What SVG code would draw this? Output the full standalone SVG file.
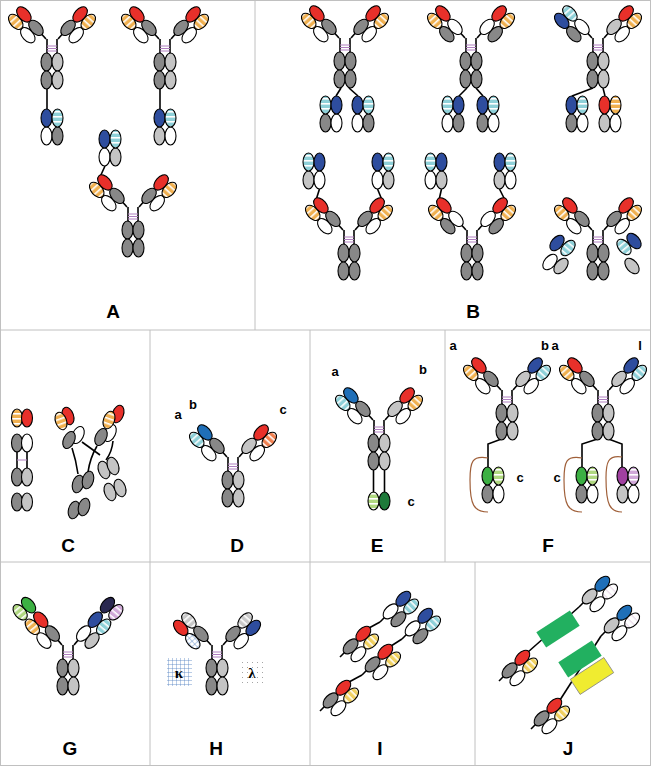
<svg xmlns="http://www.w3.org/2000/svg" xmlns:xlink="http://www.w3.org/1999/xlink" width="651" height="766" viewBox="0 0 651 766">
<style>
ellipse{stroke:#000;stroke-width:1.1}
.ln{stroke:#000;stroke-width:1.6;fill:none}
.pk{stroke:#b080c0;stroke-width:1}
.vh{fill:var(--vh,#e8302a)} .vl{fill:var(--vl,url(#po))} .ch{fill:var(--ch,#888)} .cl{fill:var(--cl,#fff)}
.xh{fill:var(--xh,#3cb043)} .xl{fill:var(--xl,url(#pg))}
.f1{fill:var(--f1,#888)} .f2{fill:var(--f2,#888)}
.lbl{font-family:"Liberation Sans",Arial,sans-serif;font-weight:bold;font-size:19px;text-anchor:middle}
.sl{font-family:"Liberation Sans",Arial,sans-serif;font-weight:bold;font-size:13px;text-anchor:middle}
.brd{stroke:#c0c0c0;stroke-width:1;fill:none}
.br{stroke:#a0603a;stroke-width:1.2;fill:none}
</style>
<defs>
<pattern id="po" patternUnits="userSpaceOnUse" width="6" height="5"><rect width="6" height="5" fill="#f0b050"/><rect y="3" width="6" height="1.6" fill="#fff"/></pattern>
<pattern id="pc" patternUnits="userSpaceOnUse" width="6" height="5"><rect width="6" height="5" fill="#8ed0d8"/><rect y="3" width="6" height="1.6" fill="#fff"/></pattern>
<pattern id="pr" patternUnits="userSpaceOnUse" width="6" height="5"><rect width="6" height="5" fill="#f08050"/><rect y="3" width="6" height="1.6" fill="#fff"/></pattern>
<pattern id="pg" patternUnits="userSpaceOnUse" width="6" height="5"><rect width="6" height="5" fill="#b0d880"/><rect y="3" width="6" height="1.6" fill="#fff"/></pattern>
<pattern id="pp" patternUnits="userSpaceOnUse" width="6" height="5"><rect width="6" height="5" fill="#d0a8d8"/><rect y="3" width="6" height="1.6" fill="#fff"/></pattern>
<pattern id="pl" patternUnits="userSpaceOnUse" width="6" height="5"><rect width="6" height="5" fill="#fff"/><rect y="3" width="6" height="1.2" fill="#e8d8e8"/></pattern>
<pattern id="py" patternUnits="userSpaceOnUse" width="6" height="5"><rect width="6" height="5" fill="#f0d060"/><rect y="3" width="6" height="1.6" fill="#fff"/></pattern>
<pattern id="pw" patternUnits="userSpaceOnUse" width="6" height="5"><rect width="6" height="5" fill="#c8c8c8"/><rect y="3" width="6" height="1.6" fill="#fff"/></pattern>
<pattern id="pgr" patternUnits="userSpaceOnUse" width="4" height="4"><rect width="4" height="4" fill="#fff"/><path d="M0 0H4M0 0V4" stroke="#5080c0" stroke-width="0.8"/></pattern>
<pattern id="pdot" patternUnits="userSpaceOnUse" width="5" height="5"><rect width="5" height="5" fill="#fff"/><circle cx="2.5" cy="2.5" r="0.5" fill="#888"/></pattern>
<g id="fab"><line class="ln" x1="0" y1="0" x2="0" y2="-7"/><ellipse class="cl" cx="-11" cy="-15" rx="5.5" ry="9"/><ellipse class="ch" cx="0" cy="-15" rx="5.5" ry="9"/><ellipse class="vl" cx="-11" cy="-33" rx="5.5" ry="9"/><ellipse class="vh" cx="0" cy="-33" rx="5.5" ry="9"/></g>
<g id="fabt"><use href="#fab"/><ellipse class="xl" cx="-11" cy="-52" rx="5.5" ry="9"/><ellipse class="xh" cx="0" cy="-52" rx="5.5" ry="9"/></g>
<g id="fc"><line class="ln" x1="-5" y1="-5" x2="-5" y2="10"/><line class="ln" x1="5" y1="-5" x2="5" y2="10"/><line class="pk" x1="-5" y1="2" x2="5" y2="2"/><line class="pk" x1="-5" y1="4.5" x2="5" y2="4.5"/><line class="pk" x1="-5" y1="7" x2="5" y2="7"/><ellipse class="f1" cx="-5.5" cy="18" rx="5.5" ry="9"/><ellipse class="f2" cx="5.5" cy="18" rx="5.5" ry="9"/><ellipse class="f1" cx="-5.5" cy="36" rx="5.5" ry="9"/><ellipse class="f2" cx="5.5" cy="36" rx="5.5" ry="9"/></g>
<g id="fv"><ellipse class="ch" cx="-5.5" cy="18" rx="5.5" ry="9"/><ellipse class="cl" cx="5.5" cy="18" rx="5.5" ry="9"/><ellipse class="vh" cx="-5.5" cy="0" rx="5.5" ry="9"/><ellipse class="vl" cx="5.5" cy="0" rx="5.5" ry="9"/></g>
</defs>
<rect width="651" height="766" fill="#fff"/>
<g id="borders">
<rect class="brd" x="0.5" y="0.5" width="650" height="765"/>
<line class="brd" x1="255" y1="0" x2="255" y2="330"/>
<line class="brd" x1="0" y1="330" x2="651" y2="330"/>
<line class="brd" x1="0" y1="562" x2="651" y2="562"/>
<line class="brd" x1="150" y1="330" x2="150" y2="766"/>
<line class="brd" x1="310" y1="330" x2="310" y2="766"/>
<line class="brd" x1="445" y1="330" x2="445" y2="562"/>
<line class="brd" x1="475" y1="562" x2="475" y2="766"/>
</g>
<g id="connectors">
<line class="ln" x1="47" y1="89" x2="47" y2="109"/>
<line class="ln" x1="160" y1="89" x2="160" y2="109"/>
<line class="ln" x1="105" y1="166" x2="100" y2="177"/>
<line class="ln" x1="341" y1="88" x2="336" y2="96"/><line class="ln" x1="349" y1="88" x2="358" y2="96"/>
<line class="ln" x1="467" y1="88" x2="459" y2="96"/><line class="ln" x1="476" y1="88" x2="483" y2="96"/>
<line class="ln" x1="593" y1="88" x2="572" y2="96"/><line class="ln" x1="603" y1="88" x2="605" y2="96"/>
<line class="ln" x1="319.5" y1="189" x2="316" y2="200"/><line class="ln" x1="377.5" y1="189" x2="382" y2="200"/>
<line class="ln" x1="441.5" y1="189" x2="439" y2="200"/><line class="ln" x1="499.5" y1="189" x2="505" y2="200"/>
<line class="ln" x1="17" y1="450" x2="17" y2="468"/><line class="ln" x1="27" y1="450" x2="27" y2="468"/>
<path class="ln" d="M72 448 Q76 460 78 474"/><path class="ln" d="M82 442 L100 455"/>
<path class="ln" d="M97 446 Q90 458 88 472"/><path class="ln" d="M113 441 Q112 452 106 460"/>
<line class="ln" x1="373.5" y1="470" x2="373.5" y2="493"/><line class="ln" x1="384.5" y1="470" x2="384.5" y2="493"/>
<polyline class="ln" points="501.5,439 488,444 488,467"/>
<polyline class="ln" points="597.5,439 582,444 582,467"/><polyline class="ln" points="608.5,439 622,444 622,467"/>
<line class="ln" x1="380" y1="622" x2="369" y2="628"/>
<line class="ln" x1="402" y1="639" x2="391" y2="646"/>
<line class="ln" x1="362" y1="675" x2="349" y2="682"/>
<line class="ln" x1="579" y1="607" x2="528" y2="652"/>
<line class="ln" x1="601" y1="636" x2="560" y2="700"/>
</g>
<g id="panelA">
<use href="#fc" transform="translate(52,44)" style="--f2:#c4c4c4"/>
<use href="#fab" transform="translate(46,39) rotate(-42)"/>
<use href="#fab" transform="translate(58,39) scale(-1,1) rotate(-42)"/>
<use href="#fv" transform="translate(52,118)" style="--vh:#2e4d9e;--vl:url(#pc);--ch:#fff;--cl:#888"/>
<use href="#fc" transform="translate(165,44)" style="--f2:#c4c4c4"/>
<use href="#fab" transform="translate(159,39) rotate(-42)"/>
<use href="#fab" transform="translate(171,39) scale(-1,1) rotate(-42)"/>
<use href="#fv" transform="translate(165,118)" style="--vh:#2e4d9e;--vl:url(#pc);--ch:#c4c4c4;--cl:#fff"/>
<use href="#fc" transform="translate(133,212)"/>
<use href="#fab" transform="translate(127,207) rotate(-42)"/>
<use href="#fab" transform="translate(139,207) scale(-1,1) rotate(-42)"/>
<use href="#fv" transform="translate(110,139)" style="--vh:#2e4d9e;--vl:url(#pc);--ch:#fff;--cl:#c4c4c4"/>
<text class="lbl" x="113" y="318">A</text>
</g>
<g id="panelB">
<use href="#fc" transform="translate(345,43)"/>
<use href="#fab" transform="translate(339,38) rotate(-42)"/>
<use href="#fab" transform="translate(351,38) scale(-1,1) rotate(-42)"/>
<use href="#fv" transform="translate(331,105)" style="--vh:url(#pc);--vl:#2e4d9e;--ch:#888;--cl:#fff"/>
<use href="#fv" transform="translate(363,105)" style="--vh:#2e4d9e;--vl:url(#pc);--ch:#fff;--cl:#888"/>
<use href="#fc" transform="translate(471,43)"/>
<use href="#fab" transform="translate(465,38) rotate(-42)" style="--ch:#fff;--cl:#888"/>
<use href="#fab" transform="translate(477,38) scale(-1,1) rotate(-42)" style="--ch:#fff;--cl:#888"/>
<use href="#fv" transform="translate(453,105)" style="--vh:url(#pc);--vl:#2e4d9e;--ch:#fff;--cl:#888"/>
<use href="#fv" transform="translate(488,105)" style="--vh:#2e4d9e;--vl:url(#pc);--ch:#888;--cl:#fff"/>
<use href="#fc" transform="translate(598,43)" style="--f2:#c4c4c4"/>
<use href="#fab" transform="translate(592,38) rotate(-42)" style="--vh:url(#pc);--vl:#2e4d9e;--ch:#fff;--cl:#888"/>
<use href="#fab" transform="translate(604,38) scale(-1,1) rotate(-42)" style="--ch:#c4c4c4"/>
<use href="#fv" transform="translate(577,105)" style="--vh:#2e4d9e;--vl:url(#pc);--ch:#888;--cl:#fff"/>
<use href="#fv" transform="translate(610,105)" style="--ch:#c4c4c4;--cl:#fff"/>
<use href="#fc" transform="translate(349,235)"/>
<use href="#fab" transform="translate(343,230) rotate(-42)"/>
<use href="#fab" transform="translate(355,230) scale(-1,1) rotate(-42)"/>
<use href="#fv" transform="translate(314,162)" style="--vh:url(#pc);--vl:#2e4d9e;--ch:#c4c4c4;--cl:#fff"/>
<use href="#fv" transform="translate(383,162)" style="--vh:#2e4d9e;--vl:url(#pc);--ch:#fff;--cl:#c4c4c4"/>
<use href="#fc" transform="translate(472,235)"/>
<use href="#fab" transform="translate(466,230) rotate(-42)" style="--ch:#fff;--cl:#888"/>
<use href="#fab" transform="translate(478,230) scale(-1,1) rotate(-42)" style="--ch:#fff;--cl:#888"/>
<use href="#fv" transform="translate(436,162)" style="--vh:url(#pc);--vl:#2e4d9e;--ch:#fff;--cl:#c4c4c4"/>
<use href="#fv" transform="translate(505,162)" style="--vh:#2e4d9e;--vl:url(#pc);--ch:#c4c4c4;--cl:#fff"/>
<use href="#fc" transform="translate(598,235)"/>
<use href="#fab" transform="translate(592,230) rotate(-42)"/>
<use href="#fab" transform="translate(604,230) scale(-1,1) rotate(-42)"/>
<ellipse cx="550" cy="262" rx="5.5" ry="9" fill="#fff" transform="rotate(40 550 262)"/>
<ellipse cx="561" cy="266" rx="5.5" ry="9" fill="#c4c4c4" transform="rotate(40 561 266)"/>
<ellipse cx="557" cy="243" rx="5.5" ry="9" fill="#2e4d9e" transform="rotate(40 557 243)"/>
<ellipse cx="568" cy="248" rx="5.5" ry="9" fill="url(#pc)" transform="rotate(40 568 248)"/>
<ellipse cx="632" cy="266" rx="5.5" ry="9" fill="#c4c4c4" transform="rotate(-40 632 266)"/>
<ellipse cx="624" cy="247" rx="5.5" ry="9" fill="url(#pc)" transform="rotate(-40 624 247)"/>
<ellipse cx="634" cy="241" rx="5.5" ry="9" fill="#2e4d9e" transform="rotate(-40 634 241)"/>
<text class="lbl" x="473" y="318">B</text>
</g>
<g id="panelC">
<ellipse cx="17" cy="418" rx="5.5" ry="9" fill="url(#po)"/><ellipse cx="27" cy="418" rx="5.5" ry="9" fill="#e8302a"/>
<ellipse cx="17" cy="443" rx="5.5" ry="9" fill="#888"/><ellipse cx="27" cy="443" rx="5.5" ry="9" fill="#fff"/>
<line class="pk" x1="17" y1="460" x2="27" y2="460"/>
<ellipse cx="17" cy="477" rx="5.5" ry="9" fill="#888"/><ellipse cx="27" cy="477" rx="5.5" ry="9" fill="#c4c4c4"/>
<ellipse cx="17" cy="502" rx="5.5" ry="9" fill="#888"/><ellipse cx="27" cy="502" rx="5.5" ry="9" fill="#c4c4c4"/>
<ellipse cx="78" cy="435" rx="5.5" ry="9" fill="#fff" transform="rotate(25 78 435)"/>
<ellipse cx="69" cy="440" rx="5.5" ry="9" fill="#888" transform="rotate(25 69 440)"/>
<ellipse cx="68" cy="416" rx="5.5" ry="9" fill="#e8302a" transform="rotate(-20 68 416)"/>
<ellipse cx="61" cy="421" rx="5.5" ry="9" fill="url(#po)" transform="rotate(-20 61 421)"/>
<ellipse cx="110" cy="433" rx="5.5" ry="9" fill="#fff" transform="rotate(25 110 433)"/>
<ellipse cx="101" cy="437" rx="5.5" ry="9" fill="#888" transform="rotate(25 101 437)"/>
<ellipse cx="118" cy="414" rx="5.5" ry="9" fill="#e8302a" transform="rotate(20 118 414)"/>
<ellipse cx="109" cy="420" rx="5.5" ry="9" fill="url(#po)" transform="rotate(20 109 420)"/>
<ellipse cx="78" cy="484" rx="5.5" ry="9" fill="#888" transform="rotate(15 78 484)"/>
<ellipse cx="88" cy="480" rx="5.5" ry="9" fill="#888" transform="rotate(15 88 480)"/>
<ellipse cx="74" cy="510" rx="5.5" ry="9" fill="#888" transform="rotate(15 74 510)"/>
<ellipse cx="84" cy="507" rx="5.5" ry="9" fill="#888" transform="rotate(15 84 507)"/>
<ellipse cx="104" cy="470" rx="5.5" ry="9" fill="#c4c4c4" transform="rotate(-20 104 470)"/>
<ellipse cx="113" cy="466" rx="5.5" ry="9" fill="#c4c4c4" transform="rotate(-20 113 466)"/>
<ellipse cx="110" cy="492" rx="5.5" ry="9" fill="#c4c4c4" transform="rotate(-20 110 492)"/>
<ellipse cx="120" cy="488" rx="5.5" ry="9" fill="#c4c4c4" transform="rotate(-20 120 488)"/>
<text class="lbl" x="68" y="552">C</text>
</g>
<g id="panelD">
<use href="#fc" transform="translate(233,462)" style="--f2:#c4c4c4"/>
<use href="#fab" transform="translate(227,457) rotate(-42)" style="--vh:#1f6fb8;--vl:url(#pc)"/>
<use href="#fab" transform="translate(239,457) scale(-1,1) rotate(-42)" style="--vl:url(#pr);--ch:#c4c4c4"/>
<text class="sl" x="178" y="419">a</text><text class="sl" x="193" y="409">b</text><text class="sl" x="283" y="414">c</text>
<text class="lbl" x="237" y="552">D</text>
</g>
<g id="panelE">
<use href="#fc" transform="translate(379,425)" style="--f2:#c4c4c4"/>
<use href="#fab" transform="translate(373,420) rotate(-42)" style="--vh:#1f6fb8;--vl:url(#pc)"/>
<use href="#fab" transform="translate(385,420) scale(-1,1) rotate(-42)" style="--ch:#c4c4c4"/>
<ellipse cx="373.5" cy="501" rx="5.5" ry="9" fill="url(#pg)"/><ellipse cx="384.5" cy="501" rx="5.5" ry="9" fill="#1e7a3a"/>
<text class="sl" x="335" y="376">a</text><text class="sl" x="423" y="374">b</text><text class="sl" x="411" y="506">c</text>
<text class="lbl" x="377" y="552">E</text>
</g>
<g id="panelF">
<use href="#fc" transform="translate(507,395)" style="--f2:#c4c4c4"/>
<use href="#fab" transform="translate(501,390) rotate(-42)"/>
<use href="#fab" transform="translate(513,390) scale(-1,1) rotate(-42)" style="--vh:#2e4d9e;--vl:url(#pc);--ch:#c4c4c4"/>
<use href="#fv" transform="translate(493,476)" style="--vh:#3cb043;--vl:url(#pg);--ch:#888;--cl:#fff"/>
<path class="br" d="M488 458 C472 455 470 462 470 480 C470 505 474 512 488 512"/>
<use href="#fc" transform="translate(603,395)" style="--f2:#c4c4c4"/>
<use href="#fab" transform="translate(597,390) rotate(-42)"/>
<use href="#fab" transform="translate(609,390) scale(-1,1) rotate(-42)" style="--vh:#2e4d9e;--vl:url(#pc);--ch:#c4c4c4"/>
<use href="#fv" transform="translate(587,476)" style="--vh:#3cb043;--vl:url(#pg);--ch:#888;--cl:#fff"/>
<use href="#fv" transform="translate(628,476)" style="--vh:#a040a0;--vl:url(#pp);--ch:#c4c4c4;--cl:#fff"/>
<path class="br" d="M582 458 C566 455 564 462 564 480 C564 505 568 512 582 512"/>
<path class="br" d="M622 457 C608 455 606 462 606 478 C606 505 610 512 622 512"/>
<text class="sl" x="453" y="350">a</text><text class="sl" x="545" y="350">b</text>
<text class="sl" x="555" y="350">a</text><text class="sl" x="640" y="350">l</text>
<text class="sl" x="520" y="482">c</text><text class="sl" x="557" y="482">c</text>
<text class="lbl" x="548" y="552">F</text>
</g>
<g id="panelG">
<use href="#fc" transform="translate(68,650)" style="--f2:#c4c4c4"/>
<use href="#fabt" transform="translate(62,645) rotate(-40)" style="--vl:url(#po)"/>
<use href="#fabt" transform="translate(74,645) scale(-1,1) rotate(-40)" style="--vh:#2e4d9e;--vl:url(#pc);--ch:#fff;--cl:#c4c4c4;--xh:#2a2850;--xl:url(#pp)"/>
<text class="lbl" x="70" y="755">G</text>
</g>
<g id="panelH">
<use href="#fc" transform="translate(217,650)" style="--f2:#c4c4c4"/>
<use href="#fab" transform="translate(211,645) rotate(-42)" style="--vh:url(#pw);--vl:#e8302a;--cl:url(#pgr)"/>
<use href="#fab" transform="translate(223,645) scale(-1,1) rotate(-42)" style="--vh:url(#pw);--vl:#2e4d9e"/>
<rect x="167" y="658" width="25" height="28" fill="url(#pgr)"/>
<text x="179" y="678" font-family="Liberation Serif, serif" font-weight="bold" font-size="15" text-anchor="middle">κ</text>
<rect x="242" y="659" width="21" height="27" fill="url(#pdot)"/>
<text x="252" y="678" font-family="Liberation Serif, serif" font-weight="bold" font-size="15" text-anchor="middle">λ</text>
<text class="lbl" x="216" y="755">H</text>
</g>
<g id="panelI">
<use href="#fab" transform="translate(380,622) scale(-1,1) rotate(-45)" style="--vh:#2e4d9e;--vl:url(#pc);--ch:#fff;--cl:#888"/>
<use href="#fab" transform="translate(402,639) scale(-1,1) rotate(-45)" style="--vh:#2e4d9e;--vl:url(#pc);--ch:#fff;--cl:#888"/>
<use href="#fab" transform="translate(340,657) scale(-1,1) rotate(-45)" style="--vl:url(#py)"/>
<use href="#fab" transform="translate(362,675) scale(-1,1) rotate(-45)" style="--vl:url(#py)"/>
<use href="#fab" transform="translate(320,711) scale(-1,1) rotate(-45)" style="--vl:url(#py)"/>
<text class="lbl" x="380" y="755">I</text>
</g>
<g id="panelJ">
<use href="#fab" transform="translate(579,607) scale(-1,1) rotate(-45)" style="--vh:#1f6fb8;--vl:url(#pl);--ch:#c4c4c4;--cl:#fff"/>
<use href="#fab" transform="translate(601,636) scale(-1,1) rotate(-45)" style="--vh:#1f6fb8;--vl:url(#pl);--ch:#c4c4c4;--cl:#fff"/>
<rect x="538" y="620" width="40" height="18" fill="#22b060" transform="rotate(-33 558 629)"/>
<rect x="560" y="650" width="40" height="18" fill="#22b060" transform="rotate(-33 580 659)"/>
<rect x="572" y="667" width="40" height="18" fill="#f0ec30" stroke="#888" stroke-width="0.8" transform="rotate(-33 592 676)"/>
<use href="#fab" transform="translate(499,681) scale(-1,1) rotate(-45)" style="--vl:url(#py)"/>
<use href="#fab" transform="translate(531,729) scale(-1,1) rotate(-45)" style="--vl:url(#py)"/>
<text class="lbl" x="568" y="755">J</text>
</g>
</svg>
